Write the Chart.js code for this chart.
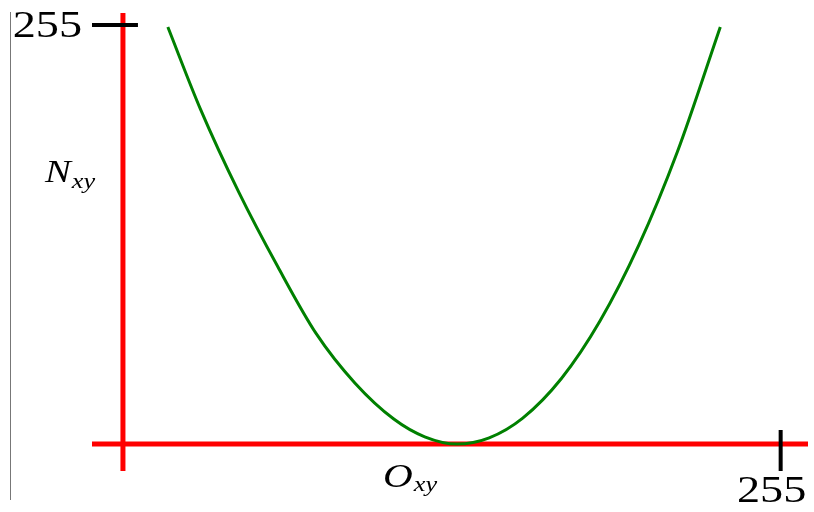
<!DOCTYPE html>
<html lang="en">
<head>
    <meta charset="UTF-8">
    <title>N_xy vs O_xy</title>
    <script src="https://cdn.jsdelivr.net/npm/chart.js"></script>
    <style>
        body {
            margin: 0;
            background: #fff;
        }

        .wrap {
            position: relative;
            width: 814px;
            height: 512px;
        }

        /* thin frame line on the left edge */
        .edge {
            position: absolute;
            left: 10px;
            top: 12px;
            width: 1px;
            height: 488px;
            background: #777;
        }
    </style>
</head>
<body>

    <div class="wrap">
        <canvas id="curveChart" width="814" height="512"></canvas>
        <div class="edge"></div>
    </div>

    <script>
        // Curve points (data units, 0..255)
        const curveX = [17.4, 30, 45, 60, 75, 90, 105, 117, 129.5, 142, 155, 170, 185, 200, 215, 231.6];
        const curveY = [253.8, 204, 153, 108, 67, 37, 15.2, 4.4, 0, 3.8, 15.8, 39.9, 75, 121, 178, 253.8];

        // axis labels
        const axisMax = 255;
        const xTickLabel = '255';
        const yTickLabel = '255';
        const xName = ['O', 'xy'];
        const yName = ['N', 'xy'];

        const points = curveX.map((x, i) => ({ x: x, y: curveY[i] }));

        // stretched serif text (the original is a bit wider than tall)
        function stretchedText(ctx, text, x, y, font, align) {
            ctx.save();
            ctx.font = font;
            ctx.textBaseline = 'alphabetic';
            ctx.fillStyle = '#000';
            const w = ctx.measureText(text).width * 1.25;
            let left = x;
            if (align === 'right') left = x - w;
            if (align === 'center') left = x - w / 2;
            ctx.translate(left, y);
            ctx.scale(1.25, 1);
            ctx.fillText(text, 0, 0);
            ctx.restore();
            return left + w;
        }

        // red axes, black end ticks and labels
        const axesPlugin = {
            id: 'axesPlugin',
            beforeDatasetsDraw(chart) {
                const ctx = chart.ctx;
                const area = chart.chartArea;
                const xs = chart.scales.x;
                const ys = chart.scales.y;
                const x0 = xs.getPixelForValue(0);
                const y0 = ys.getPixelForValue(0);
                const xMax = xs.getPixelForValue(axisMax);
                const yMax = ys.getPixelForValue(axisMax);

                ctx.save();
                ctx.strokeStyle = '#ff0000';
                ctx.lineWidth = 5;
                ctx.beginPath();
                ctx.moveTo(x0, area.top);
                ctx.lineTo(x0, area.bottom);
                ctx.moveTo(area.left, y0);
                ctx.lineTo(area.right, y0);
                ctx.stroke();

                // black ticks at 255
                ctx.strokeStyle = '#000';
                ctx.lineWidth = 4;
                ctx.beginPath();
                ctx.moveTo(area.left, yMax);
                ctx.lineTo(x0 + 15, yMax);
                ctx.moveTo(xMax, y0 - 14);
                ctx.lineTo(xMax, area.bottom);
                ctx.stroke();
                ctx.restore();

                // tick labels
                stretchedText(ctx, yTickLabel, area.left - 10, yMax + 12, '37px "Liberation Serif"', 'right');
                stretchedText(ctx, xTickLabel, xMax - 9, area.bottom + 31, '37px "Liberation Serif"', 'center');

                // axis names with subscripts
                let end = stretchedText(ctx, yName[0], 45, 182, 'italic 31px "Liberation Serif"', 'left');
                stretchedText(ctx, yName[1], end + 1, 188, 'italic 21px "Liberation Serif"', 'left');
                end = stretchedText(ctx, xName[0], 383, 487, 'italic 33px "Liberation Serif"', 'left');
                stretchedText(ctx, xName[1], end + 1, 491, 'italic 21px "Liberation Serif"', 'left');
            }
        };

        const ctx = document.getElementById('curveChart').getContext('2d');
        const curveChart = new Chart(ctx, {
            type: 'scatter',
            data: {
                datasets: [{
                    data: points,
                    showLine: true,
                    borderColor: '#008000',
                    borderWidth: 3,
                    pointRadius: 0,
                    cubicInterpolationMode: 'monotone',
                    fill: false
                }]
            },
            options: {
                responsive: false,
                animation: false,
                devicePixelRatio: 1,
                layout: {
                    padding: { left: 92, right: 6, top: 13, bottom: 41 }
                },
                plugins: {
                    legend: { display: false },
                    tooltip: { enabled: false }
                },
                scales: {
                    x: { type: 'linear', display: false, min: -12.0, max: 265.6 },
                    y: { type: 'linear', display: false, min: -16.4, max: 262.3 }
                }
            },
            plugins: [axesPlugin]
        });
    </script>

</body>
</html>
